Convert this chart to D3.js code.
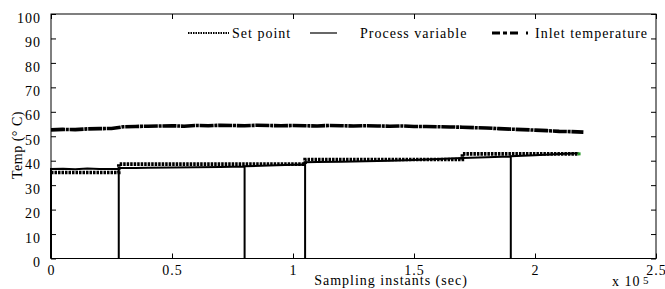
<!DOCTYPE html>
<html><head><meta charset="utf-8">
<script src="https://cdn.jsdelivr.net/npm/d3@7"></script>
<style>html,body{margin:0;padding:0;background:#fff;}svg{display:block;}</style>
</head><body>
<svg id="c" width="665" height="289"></svg>
<script>
// x in units of 1e5 s, y in °C
const xTicks = [0, 0.5, 1, 1.5, 2, 2.5];
const xTickLabels = ["0", "0.5", "1", "1.5", "2", "2.5"];
const yTicks = [0, 10, 20, 30, 40, 50, 60, 70, 80, 90, 100];
const seriesNames = ["Set point", "Process variable", "Inlet temperature"];

const setPointX = [0, 0.28, 0.28, 1.05, 1.05, 1.70, 1.70, 2.18];
const setPointY = [35.2, 35.2, 38.6, 38.6, 40.5, 40.5, 42.8, 42.8];

const processX = [0, 0, 0.05, 0.10, 0.15, 0.20, 0.28, 0.28, 0.28, 0.35, 0.40, 0.50, 0.60, 0.70, 0.80, 0.80, 0.80, 0.90, 1.00, 1.05, 1.05, 1.05, 1.10, 1.20, 1.30, 1.40, 1.50, 1.60, 1.70, 1.80, 1.90, 1.90, 1.90, 2.00, 2.10, 2.18];
const processY = [0, 36.6, 36.7, 36.5, 36.8, 36.6, 36.7, 0, 37.0, 37.0, 37.1, 37.2, 37.3, 37.4, 37.6, 0, 37.7, 38.0, 38.3, 38.4, 0, 39.4, 39.5, 39.6, 39.8, 40.0, 40.3, 40.7, 41.1, 41.4, 41.7, 0, 41.8, 42.2, 42.7, 43.0];

const inletX = [0, 0.05, 0.10, 0.15, 0.20, 0.25, 0.28, 0.30, 0.35, 0.40, 0.45, 0.50, 0.55, 0.60, 0.65, 0.70, 0.75, 0.80, 0.85, 0.90, 0.95, 1.00, 1.05, 1.10, 1.15, 1.20, 1.25, 1.30, 1.35, 1.40, 1.45, 1.50, 1.55, 1.60, 1.65, 1.70, 1.75, 1.80, 1.85, 1.90, 1.95, 2.00, 2.05, 2.10, 2.15, 2.20];
const inletY = [52.6, 52.8, 52.7, 53.0, 53.1, 53.2, 53.6, 53.9, 54.0, 54.1, 54.2, 54.3, 54.1, 54.4, 54.3, 54.5, 54.4, 54.3, 54.5, 54.4, 54.3, 54.4, 54.3, 54.2, 54.4, 54.3, 54.2, 54.3, 54.2, 54.1, 54.2, 54.0, 54.0, 53.9, 53.8, 53.7, 53.5, 53.4, 53.1, 52.9, 52.7, 52.5, 52.3, 52.0, 51.9, 51.7];

const FONT = "Liberation Serif, Times New Roman, serif";
const FS = 14, LS = 1;
const svg = d3.select("#c");
svg.append("rect").attr("width", 665).attr("height", 289).attr("fill", "#fff");

const L = 51, R = 656, T = 14, B = 258.5;
const x = d3.scaleLinear().domain([0, 2.5]).range([L, R]);
const y = d3.scaleLinear().domain([0, 100]).range([B, T]);

// axes
const gb = svg.append("g").attr("transform", `translate(0,${B})`)
  .call(d3.axisBottom(x).tickValues(xTicks).tickFormat((d, i) => xTickLabels[i]).tickSizeInner(-5).tickSizeOuter(0).tickPadding(7));
const gt = svg.append("g").attr("transform", `translate(0,${T})`)
  .call(d3.axisTop(x).tickValues(xTicks).tickFormat("").tickSizeInner(-5).tickSizeOuter(0));
const gl = svg.append("g").attr("transform", `translate(${L},0)`)
  .call(d3.axisLeft(y).tickValues(yTicks).tickSizeInner(-5).tickSizeOuter(0).tickPadding(10));
const gr = svg.append("g").attr("transform", `translate(${R},0)`)
  .call(d3.axisRight(y).tickValues(yTicks).tickFormat("").tickSizeInner(-5).tickSizeOuter(0));
[gb, gt, gl, gr].forEach(g => {
  g.select(".domain").remove();
  g.selectAll("line").attr("stroke", "#000").attr("stroke-width", 1);
  g.selectAll("text").attr("font-family", FONT).attr("font-size", FS).attr("letter-spacing", LS).attr("fill", "#000");
});
gl.selectAll("text").attr("dy", "0.58em");

svg.append("rect").attr("x", L).attr("y", T).attr("width", R - L).attr("height", B - T)
  .attr("fill", "none").attr("stroke", "#000").attr("stroke-width", 1);

// lines
const line = d3.line().x(d => x(d[0])).y(d => y(d[1]));
const sp = setPointX.map((v, i) => [v, setPointY[i]]);
const pv = processX.map((v, i) => [v, processY[i]]);
const inl = inletX.map((v, i) => [v, inletY[i]]);

svg.append("path").datum(inl).attr("d", line).attr("fill", "none")
  .attr("stroke", "#000").attr("stroke-width", 3.6).attr("stroke-dasharray", "14,0.8,3,0.8");
svg.append("path").datum(sp).attr("d", line).attr("fill", "none")
  .attr("stroke", "#000").attr("stroke-width", 3.6).attr("stroke-dasharray", "2.5,1");
svg.append("path").datum(pv).attr("d", line).attr("fill", "none")
  .attr("stroke", "#000").attr("stroke-width", 2);
// small green end marker on set point
const lastSp = sp[sp.length - 1];
svg.append("rect").attr("x", x(lastSp[0]) - 1).attr("y", y(lastSp[1]) - 1.5)
  .attr("width", 3).attr("height", 3).attr("fill", "#2a9a2a");

// legend
const leg = svg.append("g").attr("font-family", FONT).attr("font-size", FS).attr("letter-spacing", LS);
const ly = 33;
leg.append("line").attr("x1", 188).attr("x2", 229).attr("y1", ly).attr("y2", ly)
  .attr("stroke", "#000").attr("stroke-width", 2).attr("stroke-dasharray", "1.5,1");
leg.append("text").attr("x", 232).attr("y", ly + 5).text(seriesNames[0]);
leg.append("line").attr("x1", 310).attr("x2", 337).attr("y1", ly).attr("y2", ly)
  .attr("stroke", "#000").attr("stroke-width", 1.2);
leg.append("text").attr("x", 360).attr("y", ly + 5).text(seriesNames[1]);
leg.append("line").attr("x1", 492).attr("x2", 528).attr("y1", ly).attr("y2", ly)
  .attr("stroke", "#000").attr("stroke-width", 3).attr("stroke-dasharray", "8,3,4,3,8");
leg.append("text").attr("x", 535).attr("y", ly + 5).text(seriesNames[2]);

// axis labels
svg.append("text").attr("x", 391).attr("y", 285).attr("text-anchor", "middle")
  .attr("font-family", FONT).attr("font-size", FS).attr("letter-spacing", LS).text("Sampling instants (sec)");
svg.append("text").attr("transform", "translate(22,145) rotate(-90)").attr("text-anchor", "middle")
  .attr("font-family", FONT).attr("font-size", FS).attr("letter-spacing", 0.5).text("Temp (° C)");
svg.append("text").attr("x", 612).attr("y", 286).attr("font-family", FONT).attr("font-size", FS)
  .attr("letter-spacing", LS).text("x 10");
svg.append("text").attr("x", 643).attr("y", 284).attr("font-family", FONT).attr("font-size", 11).text("5");
</script>
</body></html>
